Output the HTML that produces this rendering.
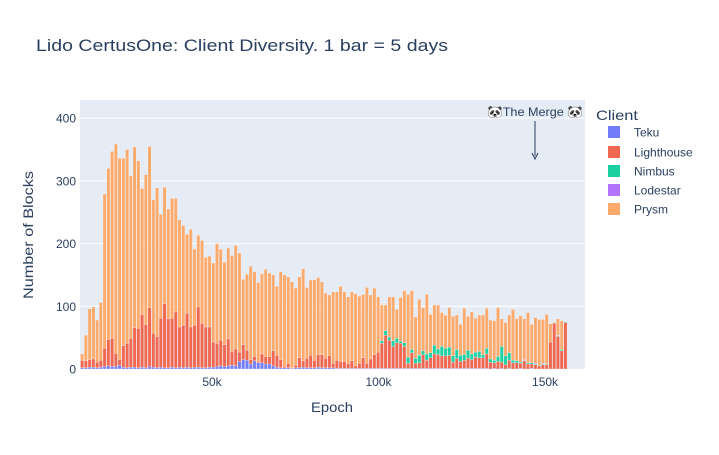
<!DOCTYPE html>
<html><head><meta charset="utf-8"><style>
body{margin:0;background:#fff;}
svg text{font-family:"Liberation Sans","DejaVu Sans",sans-serif;fill:#2a3f5f;}
</style></head><body>
<svg id="chart" width="719" height="450" xmlns="http://www.w3.org/2000/svg">
<rect x="0" y="0" width="719" height="450" fill="#fff"/>
<rect x="80" y="100" width="505" height="269" fill="#e5ecf6"/>
<g id="grid"></g>
<g id="bars"></g>
<g id="axes"></g>
<text x="36" y="51" font-size="17" textLength="412" lengthAdjust="spacingAndGlyphs">Lido CertusOne: Client Diversity. 1 bar = 5 days</text>
<text transform="translate(33,235) rotate(-90)" text-anchor="middle" font-size="14" textLength="128" lengthAdjust="spacingAndGlyphs">Number of Blocks</text>
<text x="332" y="412" text-anchor="middle" font-size="14" textLength="42" lengthAdjust="spacingAndGlyphs">Epoch</text>
<g>
<text x="535" y="116" text-anchor="middle" font-size="12" textLength="96" lengthAdjust="spacingAndGlyphs">🐼The Merge 🐼</text>
<line x1="535" y1="121" x2="535" y2="156" stroke="#2a3f5f" stroke-width="1"/>
<path d="M532,153 L535,159 L538,153" fill="none" stroke="#2a3f5f" stroke-width="1"/>
</g>
<g id="legend">
<text x="596" y="120" font-size="14" textLength="42" lengthAdjust="spacingAndGlyphs">Client</text>
</g>
</svg>
<script>
const categoriesStart = 11000;
const barSpanEpochs = 1125;
const seriesNames = ["Teku","Lighthouse","Nimbus","Lodestar","Prysm"];
const teku = [2,2,3,3,2,3,4,5,4,4,6,3,2,3,3,2,3,2,4,3,2,3,2,2,3,2,3,2,3,2,3,3,2,2,
3,3,4,5,4,5,6,5,12,15,14,8,13,10,10,8,8,5,3,2,2,2,1,2,2,3,2,2,2,3,2,2,2,
2,1,1,1,1,1,1,1,1,1,1,1,1,1,1,1,1,1,1,1,1,1,1,1,1,1,1,1,1,1,1,1,
1,1,1,1,1,1,1,1,1,1,0,1,0,1,0,1,0,0,1,0,0,1,0,0,0,0,0,0,0,0,0];
const lighthouse = [12,11,12,13,9,11,29,42,45,21,9,34,39,46,63,63,84,69,94,54,50,78,102,78,78,89,64,68,86,65,67,96,71,65,
64,40,37,41,35,43,22,27,15,24,16,7,7,2,14,12,12,24,19,13,2,7,1,4,16,10,15,20,12,20,21,15,19,
7,13,11,11,8,12,4,8,17,8,15,22,26,40,53,45,35,41,40,35,8,25,8,9,22,13,17,23,22,20,20,21,
10,16,11,13,16,14,18,17,17,23,11,9,12,10,7,13,10,10,8,13,8,7,7,5,7,7,43,73,52,29,74];
const nimbus = [0,0,0,0,0,0,0,0,0,0,0,0,0,0,0,0,0,0,0,0,0,0,0,0,0,0,0,0,0,0,0,0,0,0,0,0,0,0,0,0,
0,0,0,0,0,0,0,0,0,0,0,0,0,0,0,0,0,0,0,0,0,0,0,0,0,0,0,0,0,0,0,0,0,0,0,0,0,0,0,0,
4,7,5,9,7,3,6,10,5,8,12,6,10,8,14,9,15,12,13,10,14,10,9,13,9,8,10,5,9,5,4,8,25,14,12,4,3,2,1,2,2,1,1,1,1,0,1,1,2,1];
const lodestar = [0,0,0,0,0,0,0,0,0,0,0,0,0,0,0,0,0,0,0,0,0,0,0,0,0,0,0,0,0,0,0,0,0,0,0,0,0,0,0,0,
0,0,0,0,0,0,0,0,0,0,0,0,0,0,0,0,0,0,0,0,0,0,0,0,0,0,0,0,0,0,0,0,0,0,0,0,0,0,0,0,
0,0,0,0,0,0,0,0,0,0,0,0,0,0,0,0,0,0,0,0,0,0,0,0,0,0,0,0,0,0,0,0,0,0,0,0,0,0,1,0,0,1,0,1,0,0,0,1,0,0];
const prysm = [10,41,81,83,67,92,246,273,298,334,321,299,309,259,288,267,201,239,257,213,237,166,186,175,191,181,171,159,126,156,121,114,132,111,
113,126,159,145,131,145,153,165,158,104,121,149,135,126,128,139,133,121,110,140,146,138,137,123,129,147,113,120,128,123,116,104,97,
114,109,120,111,106,110,115,107,101,121,102,106,88,57,41,64,70,46,70,83,100,94,66,89,69,95,61,64,70,54,53,63,
63,55,49,74,54,67,54,58,63,64,62,63,78,44,53,60,81,67,74,65,80,61,73,73,70,79,29,1,26,46,0];
const yTicks = [100,200,300,400];
const yTickLabels = ["100","200","300","400"];
const xTicks = [50000,100000,150000];
const xTickLabels = ["50k","100k","150k"];

const colors = ["#636efa","#EF553B","#00cc96","#ab63fa","#FFA15A"];
const NS = "http://www.w3.org/2000/svg";
const X0 = 80, X1 = 585, Y0 = 369, Y1 = 100;
const xMin = 10360, xMax = 162000, yMin = 0, yMax = 429;
function xScale(e){ return X0 + (e - xMin) / (xMax - xMin) * (X1 - X0); }
function yScale(v){ return Y0 - (v - yMin) / (yMax - yMin) * (Y0 - Y1); }
function mk(tag, attrs){ const el = document.createElementNS(NS, tag); for (const k in attrs) el.setAttribute(k, attrs[k]); return el; }

const grid = document.getElementById('grid');
const axes = document.getElementById('axes');
yTicks.forEach((t, i) => {
  const y = yScale(t);
  const gl = mk('line', {x1: X0, x2: X1, y1: y, y2: y, stroke: '#fff', 'stroke-width': 1});
  
  
  grid.appendChild(gl);
  const tx = mk('text', {x: 76, y: y + 4.5, 'text-anchor': 'end', 'font-size': 12});
  
  
  tx.textContent = yTickLabels[i];
  axes.appendChild(tx);
});
const t0 = mk('text', {x: 76, y: yScale(0) + 4.5, 'text-anchor': 'end', 'font-size': 12});


t0.textContent = "0";
axes.appendChild(t0);
xTicks.forEach((t, i) => {
  const tx = mk('text', {x: xScale(t), y: 386, 'text-anchor': 'middle', 'font-size': 12});
  
  
  tx.textContent = xTickLabels[i];
  axes.appendChild(tx);
});

const series = [teku, lighthouse, nimbus, lodestar, prysm];
const barsG = document.getElementById('bars');
const bw = (xScale(barSpanEpochs) - xScale(0)) * 0.86;
for (let i = 0; i < prysm.length; i++) {
  const cx = xScale(categoriesStart + i * barSpanEpochs);
  let base = 0;
  for (let s = 0; s < series.length; s++) {
    const v = series[s][i] || 0;
    if (v <= 0) continue;
    const yTop = yScale(base + v), yBot = yScale(base);
    const r = mk('rect', {x: cx - bw / 2, y: yTop, width: bw, height: yBot - yTop, fill: colors[s], 'fill-opacity': 0.88, stroke: '#fff', 'stroke-width': 0.4, 'stroke-opacity': 0.6});
    
    
    barsG.appendChild(r);
    base += v;
  }
}

const legend = document.getElementById('legend');
const legY = [132, 152, 171, 190, 209];
seriesNames.forEach((n, i) => {
  const g = mk('g', {});
  
  
  g.appendChild(mk('rect', {x: 608, y: legY[i] - 6, width: 12, height: 12, fill: colors[i], 'fill-opacity': 0.9}));
  const t = mk('text', {x: 634, y: legY[i] + 4.5, 'font-size': 12});
  t.textContent = n;
  g.appendChild(t);
  legend.appendChild(g);
});
</script>
</body></html>
